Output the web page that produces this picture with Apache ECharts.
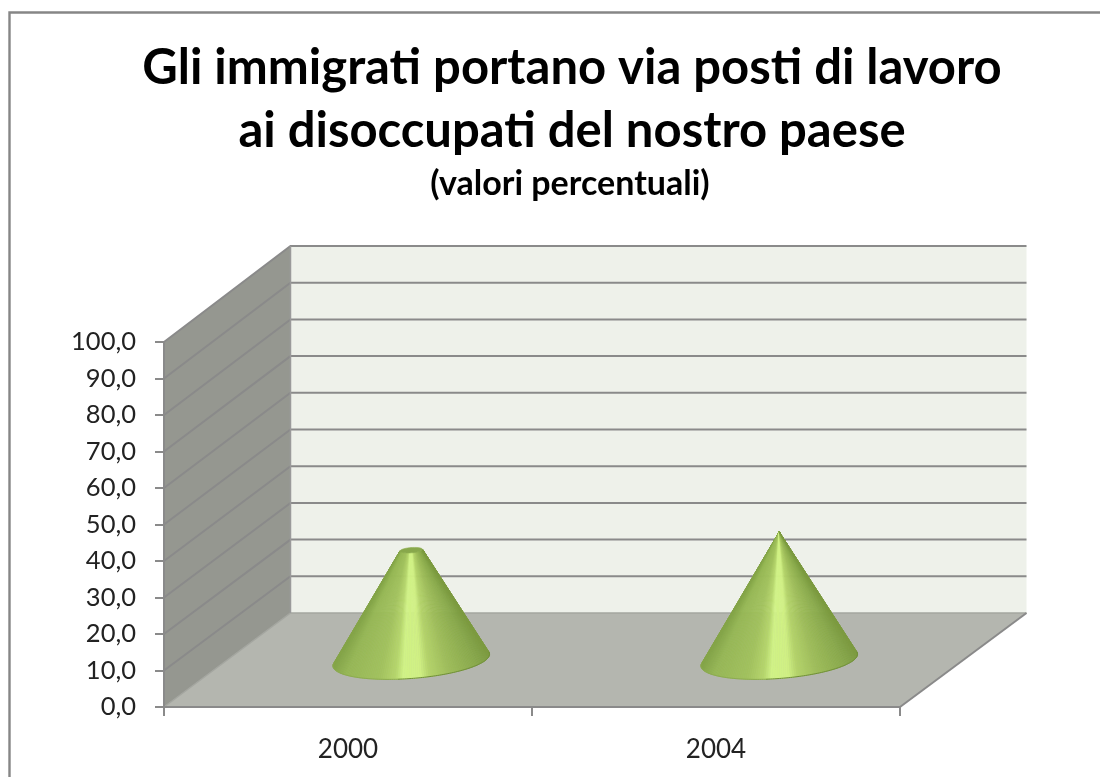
<!DOCTYPE html>
<html>
<head>
<meta charset="utf-8">
<style>html,body{margin:0;padding:0;background:#fff}#c{width:1100px;height:777px}</style>
<script src="https://cdn.jsdelivr.net/npm/echarts@6/dist/echarts.min.js"></script>
</head>
<body>
<div id="c"></div>
<script>
const categories = ['2000', '2004'];
const values = [30, 35];
const yTicks = [0, 10, 20, 30, 40, 50, 60, 70, 80, 90, 100];
const titleLines = ['Gli immigrati portano via posti di lavoro', 'ai disoccupati del nostro paese'];
const subtitle = '(valori percentuali)';

// oblique projection of the chart box
const DX = 126.5, DY = -94, DY_TOP_EXTRA = -2;
const RAMP = [[0,'#84a548'],[.08,'#96b755'],[.3,'#a2c25e'],[.4,'#b6d66c'],[.45,'#d0f286'],[.56,'#d0f084'],[.62,'#b4d36a'],[.75,'#9ebd5a'],[.92,'#89a94b'],[1,'#7c9b40']];
const LINE = '#8a8a8a';

function hex(c){return [1,3,5].map(i=>parseInt(c.substr(i,2),16));}
function rampColor(f){
  f=Math.max(0,Math.min(1,f));
  for(let i=1;i<RAMP.length;i++){
    if(f<=RAMP[i][0]){
      const a=RAMP[i-1],b=RAMP[i],k=(f-a[0])/(b[0]-a[0]);
      const A=hex(a[1]),B=hex(b[1]);
      return 'rgb('+A.map((v,j)=>Math.round(v+(B[j]-v)*k)).join(',')+')';
    }
  }
  return RAMP[RAMP.length-1][1];
}

function renderWalls(params, api){
  const cs = params.coordSys;
  const x0 = cs.x, x1 = cs.x + cs.width;
  const yOf = v => api.coord([0, v])[1];
  const back = v => yOf(v) + DY + DY_TOP_EXTRA * v / 100;
  const top = yTicks[yTicks.length-1];
  const children = [];
  children.push({type:'polygon',shape:{points:[[x0+DX,back(0)],[x1+DX,back(0)],[x1+DX,back(top)],[x0+DX,back(top)]]},style:{fill:'#eef1ea'}});
  children.push({type:'polygon',shape:{points:[[x0,yOf(0)],[x0+DX,back(0)],[x0+DX,back(top)],[x0,yOf(top)]]},style:{fill:'#959790'}});
  children.push({type:'polygon',shape:{points:[[x0,yOf(0)],[x1,yOf(0)],[x1+DX,back(0)],[x0+DX,back(0)]]},style:{fill:'#b4b6af'}});
  yTicks.forEach(v=>{
    children.push({type:'polyline',shape:{points:[[x0,yOf(v)],[x0+DX,back(v)],[x1+DX,back(v)]]},
      style:{fill:'none',stroke:v===0?'#a4a6a0':LINE,lineWidth:v===0?1.5:2}});
  });
  children.push({type:'line',shape:{x1:x0+DX,y1:back(0),x2:x0+DX,y2:back(top)},style:{stroke:'#9a9a9a',lineWidth:1.5}});
  children.push({type:'line',shape:{x1:x1,y1:yOf(0),x2:x1+DX,y2:back(0)},style:{stroke:LINE,lineWidth:2}});
  return {type:'group',children};
}

function renderCone(params, api){
  const cat = api.value(0), val = api.value(1);
  const vmax = Math.max.apply(null, values);
  const base = api.coord([cat, 0]);
  const tip = api.coord([cat, vmax]);
  const band = api.size([1, 0])[0];
  const c = [base[0] + DX/2, base[1] + DY/2];
  const ap = [tip[0] + DX/2, tip[1] + DY/2 + DY_TOP_EXTRA * vmax / 200];
  const a = band * 0.2133, b = a * 0.235, th = -4.5 * Math.PI / 180;
  const u = [Math.cos(th), Math.sin(th)], w = [-Math.sin(th), Math.cos(th)];
  const pt = (t, o, s) => [o[0] + s*(a*Math.cos(t)*u[0] + b*Math.sin(t)*w[0]), o[1] + s*(a*Math.cos(t)*u[1] + b*Math.sin(t)*w[1])];
  const rel = [ap[0]-c[0], ap[1]-c[1]];
  const X = (rel[0]*u[0]+rel[1]*u[1])/a, Y = (rel[0]*w[0]+rel[1]*w[1])/b;
  const phi = Math.atan2(Y, X), del = Math.acos(1/Math.hypot(X, Y));
  const tStart = phi - del + 2*Math.PI, tEnd = phi + del;
  const f = val / vmax;
  const topC = [c[0] + (ap[0]-c[0])*f, c[1] + (ap[1]-c[1])*f];
  const toTop = p => [p[0] + (ap[0]-p[0])*f, p[1] + (ap[1]-p[1])*f];
  const left = pt(tStart, c, 1)[0], right = pt(tEnd, c, 1)[0];
  const children = [];
  const N = 120;
  const arc = [];
  for(let i=0;i<=N;i++) arc.push(pt(tStart + (tEnd-tStart)*i/N, c, 1));
  for(let i=0;i<N;i++){
    const p = arc[i], q = arc[i+1];
    const col = rampColor(((p[0]+q[0])/2 - left)/(right-left));
    children.push({type:'polygon',shape:{points:[p,q,toTop(q),toTop(p)]},style:{fill:col,stroke:col,lineWidth:0.6}});
  }
  children.push({type:'polyline',shape:{points:arc.slice(N*0.45|0)},style:{fill:'none',stroke:'#6f8e38',lineWidth:1}});
  children.push({type:'polyline',shape:{points:arc.slice(0,(N*0.45|0)+1)},style:{fill:'none',stroke:'#8cab50',lineWidth:1}});
  if(f < 1){
    const e = [];
    for(let i=0;i<=40;i++) e.push(pt(i/40*2*Math.PI, topC, 1-f));
    children.push({type:'polygon',shape:{points:e},style:{fill:'#88a84b',stroke:'#8fae50',lineWidth:0.6}});
  }
  return {type:'group',children};
}

const chart = echarts.init(document.getElementById('c'), null, {renderer:'canvas'});
chart.setOption({
  animation:false,
  backgroundColor:'#ffffff',
  title:[
    {text:titleLines.join('\n'),left:567,top:32,textAlign:'center',
     textStyle:{fontFamily:'Lato',fontWeight:'bold',fontSize:49,lineHeight:63,color:'#000'}},
    {text:subtitle,left:565,top:162,textAlign:'center',
     textStyle:{fontFamily:'Lato',fontWeight:'bold',fontSize:34,color:'#000'}}
  ],
  graphic:[{type:'polyline',shape:{points:[[9.5,777],[9.5,12.5],[1100,12.5]]},style:{fill:'none',stroke:'#868686',lineWidth:2.4},silent:true}],
  grid:{left:164,right:200,top:342,bottom:70,containLabel:false},
  xAxis:{type:'category',data:categories,z:5,
    axisLine:{lineStyle:{color:LINE,width:2}},
    axisTick:{show:true,length:9,lineStyle:{color:LINE,width:2}},
    axisLabel:{margin:30,fontFamily:'Lato',fontSize:26,color:'#222'},
    splitLine:{show:false}},
  yAxis:{type:'value',min:0,max:100,interval:10,z:5,
    axisLine:{show:true,lineStyle:{color:LINE,width:2}},
    axisTick:{show:true,length:9,lineStyle:{color:LINE,width:2}},
    axisLabel:{margin:28,fontFamily:'Lato',fontSize:25.5,color:'#222',formatter:v=>v.toFixed(1).replace('.',',')},
    splitLine:{show:false}},
  series:[
    {type:'custom',name:'walls',coordinateSystem:'cartesian2d',renderItem:renderWalls,data:[[0,0]],z:1,silent:true,encode:{x:0,y:1}},
    {type:'custom',name:'cones',coordinateSystem:'cartesian2d',renderItem:renderCone,z:3,silent:true,encode:{x:0,y:1},
     data:values.map((v,i)=>[i,v])}
  ]
});
</script>
</body>
</html>
